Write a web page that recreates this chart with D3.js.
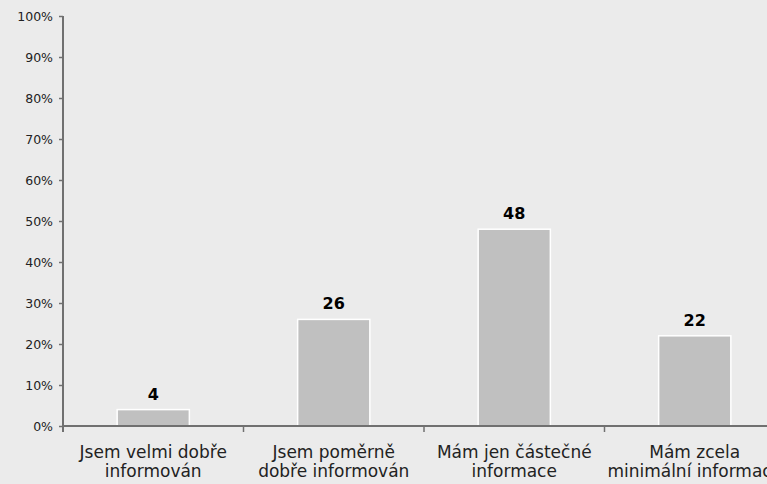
<!DOCTYPE html>
<html><head><meta charset="utf-8">
<script src="https://cdn.jsdelivr.net/npm/d3@7"></script>
<style>
html,body{margin:0;padding:0;background:#ebebeb;overflow:hidden;}
svg{display:block;font-family:"DejaVu Sans",Verdana,sans-serif;}
</style></head>
<body>
<svg id="c" width="767" height="484"></svg>
<script>
const categories = [["Jsem velmi dobře","informován"],["Jsem poměrně","dobře informován"],["Mám jen částečné","informace"],["Mám zcela","minimální informace"]];
const values = [4, 26, 48, 22];
const yTicks = [0,10,20,30,40,50,60,70,80,90,100];

const svg = d3.select("#c");
svg.append("rect").attr("width",767).attr("height",484).attr("fill","#ebebeb");
const x0 = 63, yTop = 16, yBot = 426;
const x = d3.scaleBand().domain(d3.range(categories.length)).range([x0, x0 + 4*180.5]).paddingInner(0).paddingOuter(0);
const y = d3.scaleLinear().domain([0,100]).range([yBot, yTop]);
const axisColor = "#707070";

// y axis
const ya = svg.append("g").attr("transform",`translate(${x0},0)`)
  .call(d3.axisLeft(y).tickValues(yTicks).tickFormat(d=>d+"%").tickSize(4).tickPadding(6));
ya.select(".domain").remove();
ya.selectAll(".tick line").attr("stroke",axisColor).attr("stroke-width",1.5);
ya.selectAll(".tick text").attr("fill","#222").style("font-size","12.5px").style("font-family","'DejaVu Sans',Verdana,sans-serif");
svg.append("line").attr("x1",x0).attr("x2",x0).attr("y1",yTop).attr("y2",yBot+6).attr("stroke",axisColor).attr("stroke-width",2);

// bars
const bw = x.bandwidth()*0.4;
svg.selectAll("rect.bar").data(values).join("rect").attr("class","bar")
  .attr("x",(d,i)=>x(i)+x.bandwidth()/2-bw/2)
  .attr("width",bw)
  .attr("y",d=>y(d))
  .attr("height",d=>yBot-y(d))
  .attr("fill","#c0c0c0").attr("stroke","#ffffff").attr("stroke-width",1.5);

// x axis
svg.append("line").attr("x1",x0).attr("x2",767).attr("y1",yBot).attr("y2",yBot).attr("stroke",axisColor).attr("stroke-width",2);
d3.range(1,categories.length).forEach(i=>{
  svg.append("line").attr("x1",x(i)).attr("x2",x(i)).attr("y1",yBot).attr("y2",yBot+6).attr("stroke",axisColor).attr("stroke-width",1.5);
});

// value labels
svg.selectAll("text.val").data(values).join("text").attr("class","val")
  .attr("x",(d,i)=>x(i)+x.bandwidth()/2)
  .attr("y",d=>y(d)-10)
  .attr("text-anchor","middle").attr("font-weight","bold").attr("font-size","16px").attr("fill","#000")
  .text(d=>d);

// category labels
categories.forEach((lines,i)=>{
  const t = svg.append("text").attr("text-anchor","middle").attr("font-size","17px").attr("fill","#222");
  lines.forEach((l,j)=>{
    t.append("tspan").attr("x",x(i)+x.bandwidth()/2).attr("y",458+j*18.5).text(l);
  });
});
</script>
</body></html>
